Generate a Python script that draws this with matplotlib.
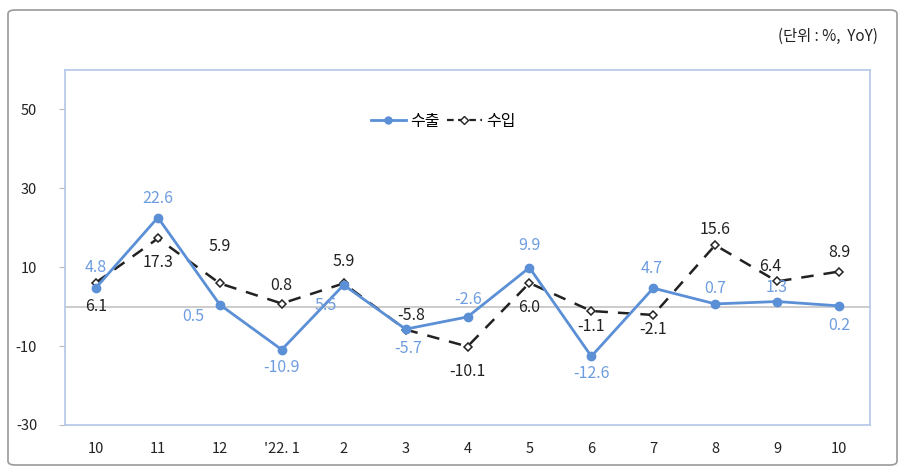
import matplotlib.pyplot as plt
from matplotlib.patches import FancyBboxPatch
from matplotlib.lines import Line2D

plt.rcParams["font.family"] = ["Noto Sans CJK KR", "DejaVu Sans"]
plt.rcParams["axes.unicode_minus"] = False

months = ["10", "11", "12", "'22. 1", "2", "3", "4", "5", "6", "7", "8", "9", "10"]
export = [4.8, 22.6, 0.5, -10.9, 5.5, -5.7, -2.6, 9.9, -12.6, 4.7, 0.7, 1.3, 0.2]
imports = [6.1, 17.3, 5.9, 0.8, 5.9, -5.8, -10.1, 6.0, -1.1, -2.1, 15.6, 6.4, 8.9]
yticks = [-30, -10, 10, 30, 50]

# label offsets in pixels (dx, dy)
exp_off = [(0, 20), (0, 19), (-26, -12), (0, -18), (-18, -21), (3, -19), (1, 17),
           (0, 22), (0, -17), (-2, 20), (0, 15), (0, 14), (0, -20)]
imp_off = [(0, -24), (0, -24), (0, 37), (0, 18), (0, 22), (6, 14), (0, -25),
           (0, -24), (0, -15), (0, -15), (0, 16), (-7, 15), (0, 19)]

blue = "#5b8fd6"
blue_txt = "#6d9de0"
dark = "#222222"

fig = plt.figure(figsize=(9.07, 4.73), dpi=100)
ax = fig.add_axes([65 / 907, 1 - 425 / 473, 805 / 907, 355 / 473])

frame = FancyBboxPatch((8 / 907, 8 / 473), 889 / 907, 455 / 473,
                       boxstyle="round,pad=0,rounding_size=0.008",
                       transform=fig.transFigure, fill=False,
                       edgecolor="#9a9a9a", lw=1.2)
fig.patches.append(frame)

x = list(range(len(months)))
ax.axhline(0, color="#c8c8c8", lw=1.3, zorder=1)
ax.plot(x, imports, color=dark, lw=1.8, ls=(0, (5, 4)), marker="D", ms=4.5,
        mfc="white", mec=dark, mew=1.1, zorder=3)
ax.plot(x, export, color=blue, lw=2, marker="o", ms=6, mfc=blue, mec=blue, zorder=4)

k = 0.72
for i, v in enumerate(export):
    ax.annotate(f"{v:.1f}", (i, v), xytext=(exp_off[i][0] * k, exp_off[i][1] * k),
                textcoords="offset points", ha="center", va="center",
                fontsize=11.5, color=blue_txt, zorder=5)
for i, v in enumerate(imports):
    ax.annotate(f"{v:.1f}", (i, v), xytext=(imp_off[i][0] * k, imp_off[i][1] * k),
                textcoords="offset points", ha="center", va="center",
                fontsize=11.5, color=dark, zorder=5)

ax.set_xlim(-0.5, len(months) - 0.5)
ax.set_ylim(-30, 60)
ax.set_yticks(yticks)
ax.set_xticks(x)
ax.set_xticklabels(months)
ax.tick_params(axis="y", length=4, width=0.8, color="#bbbbbb", pad=16,
               labelsize=10.5, labelcolor="#222222")
ax.tick_params(axis="x", length=0, pad=12, labelsize=10.5, labelcolor="#222222")
for s in ax.spines.values():
    s.set_color("#b4c7e7")
    s.set_linewidth(1.2)

handles = [
    Line2D([], [], color=blue, lw=2, marker="o", ms=5, mfc=blue, mec=blue),
    Line2D([], [], color=dark, lw=1.6, ls=(0, (3, 2)), marker="D", ms=4,
           mfc="white", mec=dark),
]
ax.legend(handles, ["수출", "수입"], loc="center", bbox_to_anchor=(0.47, 0.855),
          ncol=2, frameon=False, fontsize=11.5, handlelength=2.2,
          columnspacing=0.4, handletextpad=0.3)

fig.text(878 / 907, 1 - 36 / 473, "(단위 : %,  YoY)", ha="right", va="center",
         fontsize=11, color="#222222")

fig.savefig("out.png", dpi=100)
